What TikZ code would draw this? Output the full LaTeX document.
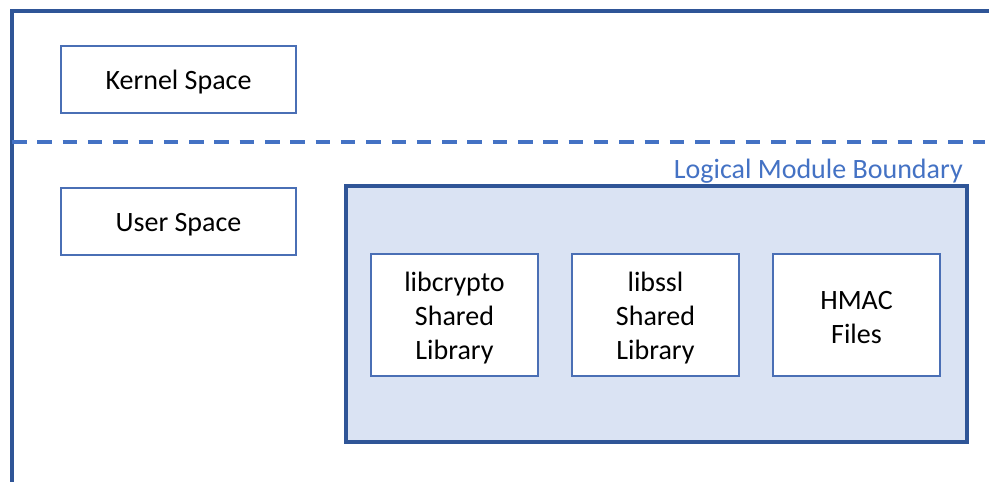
\documentclass[tikz,border=0pt]{standalone}
\usepackage{fontspec}
\setmainfont{Carlito}
\definecolor{frameblue}{HTML}{2F5597}
\definecolor{lineblue}{HTML}{4472C4}
\definecolor{boxblue}{HTML}{4A6FB5}
\definecolor{modfill}{HTML}{DAE3F3}
\tikzset{
  label text/.style={font=\fontsize{28}{34}\selectfont, text=black, align=center},
  spacebox/.style={draw=boxblue, line width=1.5pt, fill=white, minimum width=235pt,
    minimum height=67pt, inner sep=0pt, label text},
  libbox/.style={draw=boxblue, line width=1.5pt, fill=white, minimum width=167pt,
    minimum height=122pt, inner sep=0pt, label text},
  modbox/.style={draw=frameblue, line width=4pt, fill=modfill, minimum width=621pt,
    minimum height=256pt, inner sep=0pt},
  lowered/.style={yshift=-3pt},
}
\begin{document}
\begin{tikzpicture}[x=1pt, y=-1pt]
  \useasboundingbox (0,0) rectangle (989,482);
  % outer frame: top and left edges
  \coordinate (fbl) at (12,484);
  \coordinate (ftl) at (12,11);
  \coordinate (ftr) at (991,11);
  \draw[frameblue, line width=4pt, line join=miter] (fbl) -- (ftl) -- (ftr);
  % kernel / user separator
  \coordinate (sepl) at (12,142);
  \coordinate (sepr) at (985,142);
  \draw[lineblue, line width=3.5pt, dash pattern=on 14.5pt off 10.8pt] (sepl) -- (sepr);
  % space boxes
  \node[spacebox] (kernel) at (178.5,79.5) {};
  \node[label text, lowered] (kerneltext) at (kernel) {Kernel Space};
  \node[spacebox] (user) at (178.5,221.5) {};
  \node[label text, lowered] (usertext) at (user) {User Space};
  % logical module
  \node[modbox] (module) at (656.5,314) {};
  \node[anchor=east, font=\fontsize{28}{34}\selectfont, text=lineblue, inner sep=0pt]
    (modlabel) at (963,171) {Logical Module Boundary};
  \node[libbox] (crypto) at (454.5,315) {};
  \node[label text, lowered] (cryptotext) at (crypto) {libcrypto\\Shared\\Library};
  \node[libbox] (ssl) at (655.5,315) {};
  \node[label text, lowered] (ssltext) at (ssl) {libssl\\Shared\\Library};
  \node[libbox] (hmac) at (856.5,315) {};
  \node[label text, lowered] (hmactext) at (hmac) {HMAC\\Files};
\end{tikzpicture}
\end{document}
